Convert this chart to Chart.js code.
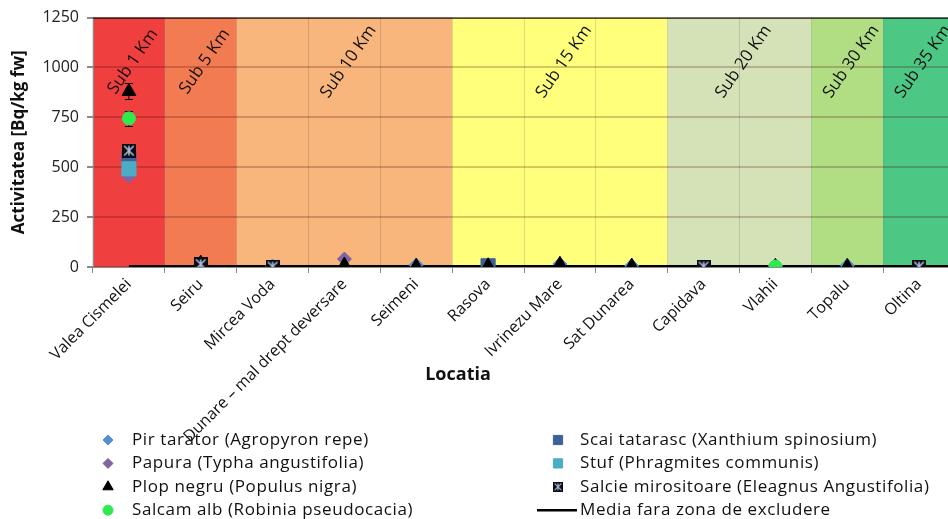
<!DOCTYPE html>
<html>
<head>
<meta charset="utf-8">
<script src="https://cdn.jsdelivr.net/npm/chart.js@4.4.0/dist/chart.umd.min.js"></script>
<style>
html, body { margin: 0; padding: 0; background: #fff; overflow: hidden; }
#wrap { width: 948px; height: 519px; overflow: hidden; }
</style>
</head>
<body>
<div id="wrap"><canvas id="graphCanvas" width="966" height="519"></canvas></div>
<script>
// Locatii
const categories = ['Valea Cismelei', 'Seiru', 'Mircea Voda', 'Dunare \u2013 mal drept deversare', 'Seimeni',
  'Rasova', 'Ivrinezu Mare', 'Sat Dunarea', 'Capidava', 'Vlahii', 'Topalu', 'Oltina'];

// Activitatea [Bq/kg fw] pe specii
const pirTarator = [470, 12, 5, null, 10, null, 15, 6, null, 8, 8, null];
const papura     = [455, null, null, 40, null, null, null, null, null, null, null, null];
const plopNegru  = [880, 20, null, 10, 4, 6, 14, 5, null, 3, 3, null];
const salcamAlb  = [745, null, null, null, null, null, null, null, null, 2, null, null];
const scaiTatarasc = [545, null, null, null, null, 6, null, null, null, null, null, null];
const stuf       = [492, null, null, null, null, null, null, null, null, null, null, null];
const salcie     = [583, 14, 2, null, null, null, null, null, 2, null, null, 2];

// Incertitudini
const plopErr   = [40, 0, 0, 0, 0, 0, 0, 0, 0, 0, 0, 0];
const salcamErr = [37, 0, 0, 0, 0, 0, 0, 0, 0, 0, 0, 0];

// Media fara zona de excludere
const mediaFaraExcludere = 3;

// Zone de distanta (index locatie de la / pana la)
const bandLabels = ['Sub 1 Km', 'Sub 5 Km', 'Sub 10 Km', 'Sub 15 Km', 'Sub 20 Km', 'Sub 30 Km', 'Sub 35 Km'];
const bandFrom   = [0, 1, 2, 5, 8, 10, 11];
const bandTo     = [0, 1, 4, 7, 9, 10, 11];
const bandColors = ['#F03F3F', '#F27B52', '#F8B57C', '#FFFF7C', '#D5E2B8', '#B2DE83', '#4CC784'];

const FONT = '"Open Sans", "Noto Sans", sans-serif';

// Marker pentru salcie: patrat negru cu steluta
function salcieMarker(size) {
    const c = document.createElement('canvas');
    c.width = size; c.height = size;
    const g = c.getContext('2d');
    g.fillStyle = '#0c0c14';
    g.fillRect(0, 0, size, size);
    g.strokeStyle = '#aabdda';
    g.lineWidth = size > 10 ? 1.6 : 1.1;
    const m = size / 2, p = size * 0.16;
    g.beginPath();
    g.moveTo(m, p); g.lineTo(m, size - p);
    g.moveTo(p, p); g.lineTo(size - p, size - p);
    g.moveTo(size - p, p); g.lineTo(p, size - p);
    g.stroke();
    return c;
}

function pointSet(label, data, style, radius, color, order) {
    return {
        label: label, data: data, showLine: false, order: order,
        pointStyle: style, pointRadius: radius, pointHoverRadius: radius,
        backgroundColor: color, borderColor: color, borderWidth: 1
    };
}

// order: higher = drawn further back
const datasets = [
    pointSet('Pir tarator (Agropyron repe)', pirTarator, 'rectRot', 7, '#558ED5', 7),
    pointSet('Papura (Typha angustifolia)', papura, 'rectRot', 7, '#8064A2', 6),
    Object.assign(pointSet('Plop negru (Populus nigra)', plopNegru, 'triangle', 8, '#000000', 3), { errors: plopErr }),
    Object.assign(pointSet('Salcam alb (Robinia pseudocacia)', salcamAlb, 'circle', 6.5, '#2EEA4F', 2), { errors: salcamErr }),
    pointSet('Scai tatarasc (Xanthium spinosium)', scaiTatarasc, 'rect', 10, '#3C6098', 5),
    pointSet('Stuf (Phragmites communis)', stuf, 'rect', 10, '#4BACC6', 4),
    pointSet('Salcie mirositoare (Eleagnus Angustifolia)', salcie, salcieMarker(14), 7, '#000000', 1),
    {
        label: 'Media fara zona de excludere', xAxisID: 'xm', order: 8,
        data: [{ x: 0, y: mediaFaraExcludere }, { x: categories.length - 0.5, y: mediaFaraExcludere }],
        borderColor: '#000000', borderWidth: 3, pointRadius: 0, fill: false
    }
];

// Legend icons (smaller)
const legendIcons = [
    { pointStyle: 'rectRot', radius: 5 },
    { pointStyle: 'rectRot', radius: 5 },
    { pointStyle: 'triangle', radius: 6 },
    { pointStyle: 'circle', radius: 5 },
    { pointStyle: 'rect', radius: 6.5 },
    { pointStyle: 'rect', radius: 6.5 },
    { pointStyle: salcieMarker(10), radius: 5 },
    null
];

const decorPlugin = {
    id: 'decor',
    beforeDraw(chart) {
        const { ctx, chartArea, scales } = chart;
        const x = scales.x;
        const half = (x.getPixelForValue(1) - x.getPixelForValue(0)) / 2;
        ctx.save();
        bandLabels.forEach((b, i) => {
            const x0 = x.getPixelForValue(bandFrom[i]) - half;
            const x1 = x.getPixelForValue(bandTo[i]) + half;
            ctx.fillStyle = bandColors[i];
            ctx.fillRect(x0, chartArea.top, x1 - x0, chartArea.bottom - chartArea.top);
        });
        ctx.restore();
    },
    beforeDatasetsDraw(chart) {
        const { ctx, chartArea, scales } = chart;
        const x = scales.x, y = scales.y;
        ctx.save();
        // top border
        ctx.strokeStyle = '#000';
        ctx.lineWidth = 1;
        ctx.beginPath();
        ctx.moveTo(chartArea.left, chartArea.top + 0.5);
        ctx.lineTo(chartArea.right, chartArea.top + 0.5);
        ctx.stroke();
        // band labels
        ctx.fillStyle = '#111';
        ctx.font = '17px ' + FONT;
        ctx.textAlign = 'center';
        ctx.textBaseline = 'middle';
        bandLabels.forEach((b, i) => {
            const cx = (x.getPixelForValue(bandFrom[i]) + x.getPixelForValue(bandTo[i])) / 2 + 4;
            ctx.save();
            ctx.translate(cx, chartArea.top + 44);
            ctx.rotate(-55 * Math.PI / 180);
            ctx.fillText(b, 0, 0);
            ctx.restore();
        });
        // error bars
        ctx.strokeStyle = '#000';
        ctx.lineWidth = 1;
        chart.data.datasets.forEach((ds, di) => {
            if (!ds.errors) return;
            const meta = chart.getDatasetMeta(di);
            ds.data.forEach((v, i) => {
                if (v === null || !ds.errors[i]) return;
                const px = meta.data[i].x;
                const yt = Math.round(y.getPixelForValue(v + ds.errors[i])) + 0.5;
                const yb = Math.round(y.getPixelForValue(v - ds.errors[i])) + 0.5;
                ctx.beginPath();
                ctx.moveTo(px, yt); ctx.lineTo(px, yb);
                ctx.moveTo(px - 4, yt); ctx.lineTo(px + 4, yt);
                ctx.moveTo(px - 4, yb); ctx.lineTo(px + 4, yb);
                ctx.stroke();
            });
        });
        ctx.restore();
    },
    afterDraw(chart) {
        const { ctx } = chart;
        ctx.save();
        // x axis title
        ctx.fillStyle = '#111';
        ctx.font = 'bold 18px ' + FONT;
        ctx.textAlign = 'center';
        ctx.textBaseline = 'middle';
        ctx.fillText('Locatia', 458, 375);
        // legend, two columns
        ctx.font = '17px ' + FONT;
        ctx.letterSpacing = '0.6px';
        ctx.textAlign = 'left';
        chart.data.datasets.forEach((ds, k) => {
            const col = Math.floor(k / 4), row = k % 4;
            const ly = 440 + row * 23.4;
            const mx = col === 0 ? 108 : 558;
            const tx = col === 0 ? 132 : 580;
            const icon = legendIcons[k];
            if (icon) {
                ctx.fillStyle = ds.backgroundColor;
                ctx.strokeStyle = ds.borderColor;
                ctx.lineWidth = 1;
                Chart.helpers.drawPoint(ctx, { pointStyle: icon.pointStyle, radius: icon.radius, rotation: 0, borderWidth: 1 }, mx, ly);
            } else {
                ctx.strokeStyle = ds.borderColor;
                ctx.lineWidth = 2.5;
                ctx.beginPath();
                ctx.moveTo(537, ly); ctx.lineTo(577, ly);
                ctx.stroke();
            }
            ctx.fillStyle = '#111';
            ctx.fillText(ds.label, tx, ly);
        });
        ctx.restore();
    }
};

const ctx = document.getElementById('graphCanvas').getContext('2d');
const chart = new Chart(ctx, {
    type: 'line',
    data: { labels: categories, datasets: datasets },
    plugins: [decorPlugin],
    options: {
        responsive: false,
        animation: false,
        devicePixelRatio: 1,
        layout: { padding: { top: 16, right: 8, bottom: 0, left: 0 } },
        plugins: { legend: { display: false }, tooltip: { enabled: false } },
        scales: {
            x: {
                type: 'category',
                offset: true,
                grid: { offset: true, color: 'rgba(0,0,0,0.13)', lineWidth: 1, tickLength: 6, tickColor: '#8a8a8a' },
                border: { color: '#8a8a8a', width: 1 },
                ticks: {
                    autoSkip: false, maxRotation: 45, minRotation: 45,
                    font: { family: FONT, size: 16 }, color: '#111', padding: 2
                },
                afterFit(s) { s.height = 252; }
            },
            xm: { type: 'linear', display: false, min: -0.5, max: categories.length - 0.5 },
            y: {
                min: 0, max: 1250,
                ticks: {
                    stepSize: 250, font: { family: FONT, size: 16 }, color: '#222', padding: 8,
                    format: { useGrouping: false }
                },
                grid: { color: 'rgba(70,0,0,0.22)', lineWidth: 2, tickLength: 6, tickColor: '#8a8a8a' },
                border: { color: '#8a8a8a', width: 1 },
                title: {
                    display: true, text: 'Activitatea [Bq/kg fw]', color: '#111',
                    font: { family: FONT, size: 17, weight: 'bold' }, padding: { top: 9, bottom: 0 }
                },
                afterFit(s) { s.width = 93; }
            }
        }
    }
});
</script>
</body>
</html>
